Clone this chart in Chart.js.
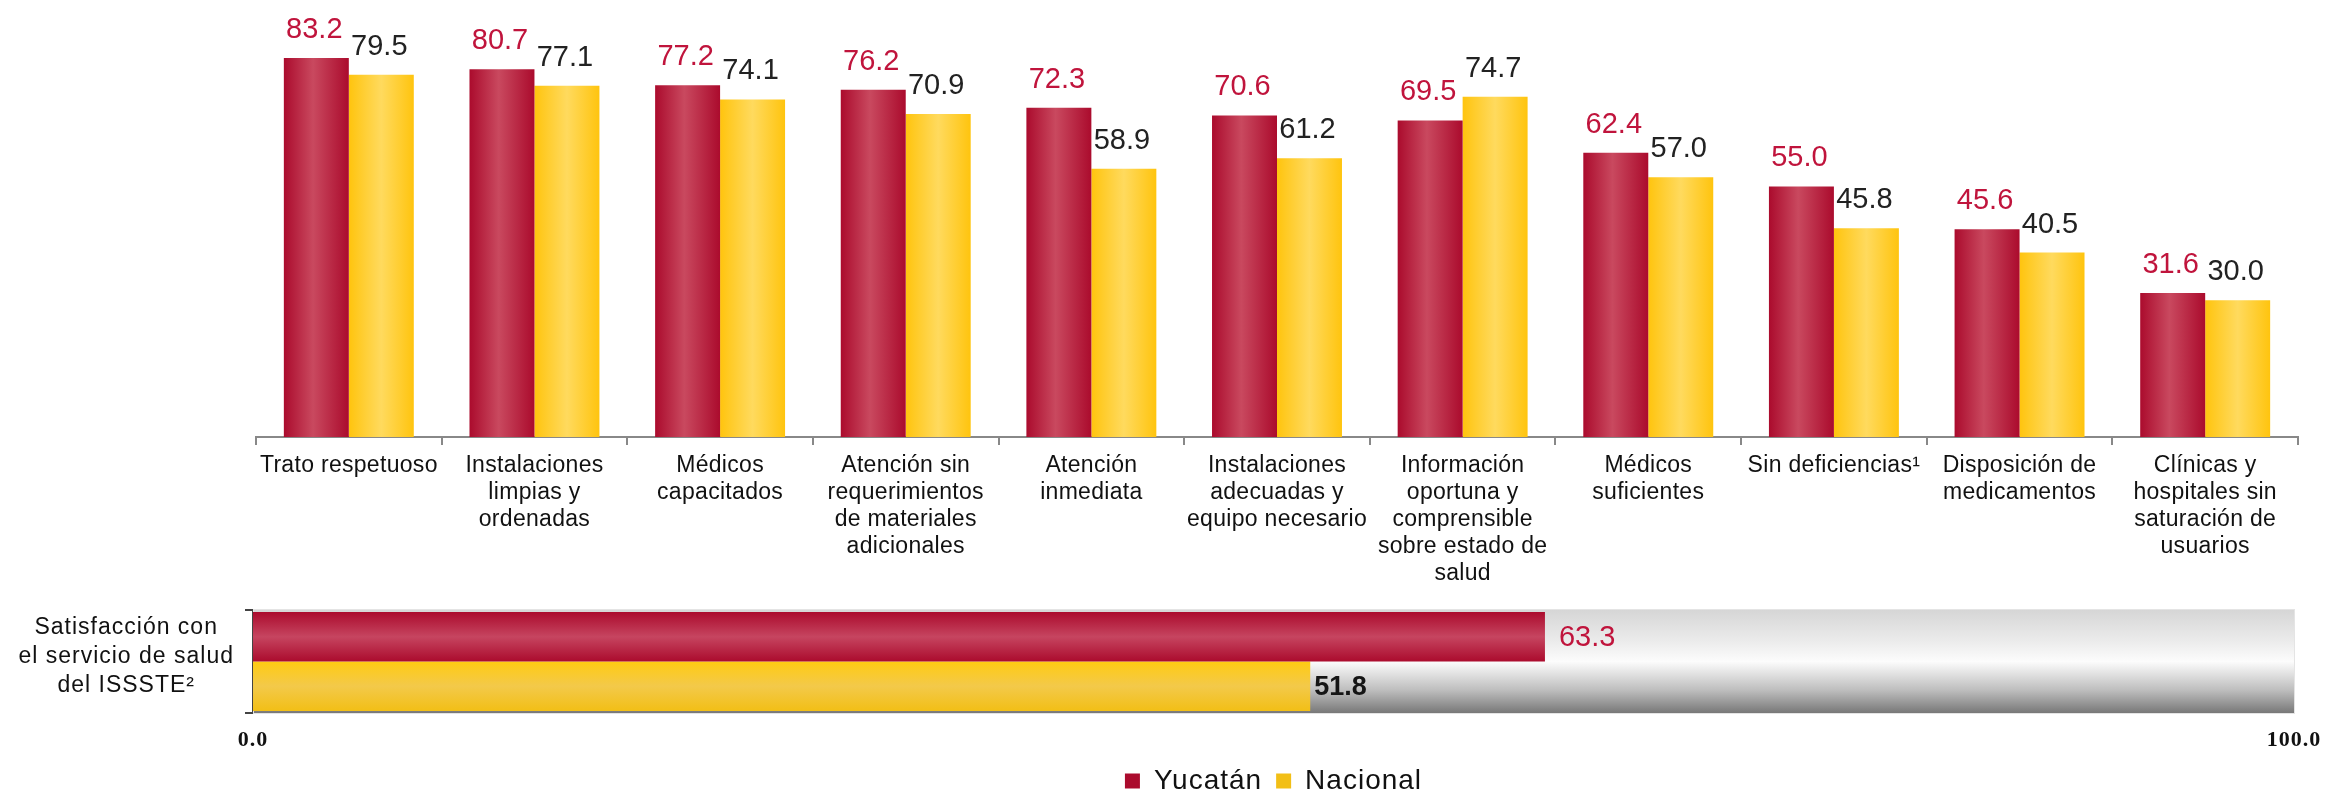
<!DOCTYPE html>
<html>
<head>
<meta charset="utf-8">
<script src="https://cdn.jsdelivr.net/npm/chart.js@4.4.0/dist/chart.umd.min.js"></script>
<style>
  html, body { margin: 0; padding: 0; background: #fff; }
  body { width: 2326px; height: 795px; position: relative; overflow: hidden; }
  canvas { position: absolute; left: 0; }
  #top { top: 0; }
  #bottom { top: 560px; }
</style>
</head>
<body>
<canvas id="top" width="2326" height="610"></canvas>
<canvas id="bottom" width="2326" height="245"></canvas>
<script>
// categories (each entry = lines of the label)
const categories = [
  ['Trato respetuoso'],
  ['Instalaciones', 'limpias y', 'ordenadas'],
  ['Médicos', 'capacitados'],
  ['Atención sin', 'requerimientos', 'de materiales', 'adicionales'],
  ['Atención', 'inmediata'],
  ['Instalaciones', 'adecuadas y', 'equipo necesario'],
  ['Información', 'oportuna y', 'comprensible', 'sobre estado de', 'salud'],
  ['Médicos', 'suficientes'],
  ['Sin deficiencias¹'],
  ['Disposición de', 'medicamentos'],
  ['Clínicas y', 'hospitales sin', 'saturación de', 'usuarios']
];
const yucatan  = [83.2, 80.7, 77.2, 76.2, 72.3, 70.6, 69.5, 62.4, 55.0, 45.6, 31.6];
const nacional = [79.5, 77.1, 74.1, 70.9, 58.9, 61.2, 74.7, 57.0, 45.8, 40.5, 30.0];

const summaryLabel = ['Satisfacción con', 'el servicio de salud', 'del ISSSTE²'];
const summaryYucatan  = [63.3];
const summaryNacional = [51.8];
const summaryTicks = [0, 100];

const seriesNames = ['Yucatán', 'Nacional'];

const SANS = '"Liberation Sans", Arial, sans-serif';
const CAT_PCT = 0.70;
const redStops = [[0, '#ab0b2d'], [0.45, '#c9495f'], [1, '#ab0b2d']];
const yelStops = [[0, '#ffc40e'], [0.5, '#ffda5e'], [1, '#ffc40e']];
const redStopsH = [[0, '#ab0b2d'], [0.5, '#c64560'], [1, '#ab0b2d']];
const yelStopsH = [[0, '#ffcb12'], [0.5, '#f3c94a'], [1, '#f2bf16']];

// gradient across each column, built from the x scale
function columnFill(stops) {
  return (c) => {
    const chart = c.chart, xs = chart.scales.x;
    if (c.type !== 'data' || !chart.chartArea || !xs) return stops[0][1];
    const w = xs.width / categories.length * CAT_PCT / 2;
    const left = xs.getPixelForValue(c.dataIndex) - w + c.datasetIndex * w;
    const g = chart.ctx.createLinearGradient(left, 0, left + w, 0);
    stops.forEach(([o, col]) => g.addColorStop(o, col));
    return g;
  };
}

// gradient across each horizontal bar, built from the y scale
function barFill(stops) {
  return (c) => {
    const chart = c.chart, ys = chart.scales.y;
    if (c.type !== 'data' || !chart.chartArea || !ys) return stops[0][1];
    const h = ys.height * 0.96 / 2;
    const top = ys.getPixelForValue(c.dataIndex) - h + c.datasetIndex * h;
    const g = chart.ctx.createLinearGradient(0, top, 0, top + h);
    stops.forEach(([o, col]) => g.addColorStop(o, col));
    return g;
  };
}

function spacing(px) {
  return {
    id: 'spacing',
    beforeUpdate(chart) { chart.ctx.letterSpacing = px; },
    beforeDraw(chart) { chart.ctx.letterSpacing = px; }
  };
}

const columnValues = {
  id: 'columnValues',
  afterDatasetsDraw(chart) {
    const ctx = chart.ctx;
    ctx.save();
    ctx.letterSpacing = '0px';
    ctx.font = '29px ' + SANS;
    ctx.textAlign = 'center';
    ctx.textBaseline = 'alphabetic';
    chart.data.datasets.forEach((ds, di) => {
      chart.getDatasetMeta(di).data.forEach((bar, i) => {
        ctx.fillStyle = di === 0 ? '#c0143c' : '#222';
        ctx.fillText(ds.data[i].toFixed(1), bar.x - 2, bar.y - 20);
      });
    });
    ctx.restore();
  }
};

const track = {
  id: 'track',
  beforeDatasetsDraw(chart) {
    const { ctx, chartArea: a, scales: { x } } = chart;
    const x0 = x.getPixelForValue(summaryTicks[0]);
    const x1 = x.getPixelForValue(summaryTicks[1]);
    const g = ctx.createLinearGradient(0, a.top, 0, a.bottom);
    g.addColorStop(0, '#d6d6d6');
    g.addColorStop(0.3, '#ebebeb');
    g.addColorStop(0.5, '#fcfcfc');
    g.addColorStop(0.56, '#efefef');
    g.addColorStop(0.78, '#bdbdbd');
    g.addColorStop(1, '#787878');
    ctx.save();
    ctx.fillStyle = g;
    ctx.fillRect(x0, a.top, x1 - x0, a.bottom - a.top);
    ctx.strokeStyle = '#e4e4e4';
    ctx.lineWidth = 1;
    ctx.strokeRect(x0 + 0.5, a.top - 0.5, x1 - x0, a.bottom - a.top + 1);
    ctx.restore();
  }
};

const barValues = {
  id: 'barValues',
  afterDatasetsDraw(chart) {
    const ctx = chart.ctx;
    ctx.save();
    ctx.letterSpacing = '0px';
    ctx.textAlign = 'left';
    ctx.textBaseline = 'middle';
    chart.data.datasets.forEach((ds, di) => {
      chart.getDatasetMeta(di).data.forEach((bar, i) => {
        if (di === 0) {
          ctx.font = '29px ' + SANS;
          ctx.fillStyle = '#c0143c';
          ctx.fillText(ds.data[i].toFixed(1), bar.x + 14, bar.y + 1);
        } else {
          ctx.font = 'bold 27px ' + SANS;
          ctx.fillStyle = '#151515';
          ctx.fillText(ds.data[i].toFixed(1), bar.x + 4, bar.y + 1);
        }
      });
    });
    ctx.restore();
  }
};

new Chart(document.getElementById('top'), {
  type: 'bar',
  data: {
    labels: categories,
    datasets: [
      { label: seriesNames[0], data: yucatan, backgroundColor: columnFill(redStops),
        categoryPercentage: CAT_PCT, barPercentage: 1, borderWidth: 0 },
      { label: seriesNames[1], data: nacional, backgroundColor: columnFill(yelStops),
        categoryPercentage: CAT_PCT, barPercentage: 1, borderWidth: 0 }
    ]
  },
  options: {
    responsive: false,
    animation: false,
    events: [],
    layout: { padding: { left: 256, right: 28, top: 27, bottom: 0 } },
    plugins: { legend: { display: false }, tooltip: { enabled: false } },
    scales: {
      x: {
        grid: { drawOnChartArea: false, drawTicks: true, tickLength: 8, color: '#888', lineWidth: 2 },
        border: { display: true, color: '#888', width: 2 },
        ticks: {
          color: '#111', padding: 7, maxRotation: 0, autoSkip: false,
          font: { family: SANS, size: 23, lineHeight: '27px' }
        },
        afterFit(scale) { scale.height = 173; scale.paddingLeft = 0; scale.paddingRight = 0; }
      },
      y: { display: false, min: 0, max: 90 }
    }
  },
  plugins: [spacing('0.3px'), columnValues]
});

new Chart(document.getElementById('bottom'), {
  type: 'bar',
  data: {
    labels: [summaryLabel],
    datasets: [
      { label: seriesNames[0], data: summaryYucatan, backgroundColor: barFill(redStopsH),
        categoryPercentage: 0.96, barPercentage: 1, borderWidth: 0 },
      { label: seriesNames[1], data: summaryNacional, backgroundColor: barFill(yelStopsH),
        categoryPercentage: 0.96, barPercentage: 1, borderWidth: 0 }
    ]
  },
  options: {
    indexAxis: 'y',
    responsive: false,
    animation: false,
    events: [],
    layout: { padding: { left: 0, right: 32, top: 50, bottom: 0 } },
    plugins: {
      tooltip: { enabled: false },
      legend: {
        position: 'bottom',
        fullSize: false,
        labels: {
          boxWidth: 15, boxHeight: 15, padding: 14, color: '#111',
          font: { family: SANS, size: 28 }
        }
      }
    },
    scales: {
      x: {
        min: summaryTicks[0], max: summaryTicks[1],
        grid: { display: false, drawTicks: false },
        border: { display: false },
        ticks: {
          color: '#111', padding: 14,
          font: { family: '"Liberation Serif", "Times New Roman", serif', weight: 'bold', size: 22 },
          callback: (v) => Number(v).toFixed(1)
        },
        afterBuildTicks(scale) { scale.ticks = summaryTicks.map((v) => ({ value: v })); },
        afterFit(scale) { scale.height = 40; scale.paddingLeft = 0; scale.paddingRight = 0; }
      },
      y: {
        grid: { drawOnChartArea: false, drawTicks: true, tickLength: 8, color: '#444', lineWidth: 2 },
        border: { display: true, color: '#444', width: 2 },
        ticks: {
          color: '#111', padding: 11, crossAlign: 'center', labelOffset: -5,
          font: { family: SANS, size: 23, lineHeight: '29px' }
        },
        afterFit(scale) { scale.width = 253; scale.paddingTop = 0; scale.paddingBottom = 0; }
      }
    }
  },
  plugins: [spacing('1px'), track, barValues]
});
</script>
</body>
</html>
